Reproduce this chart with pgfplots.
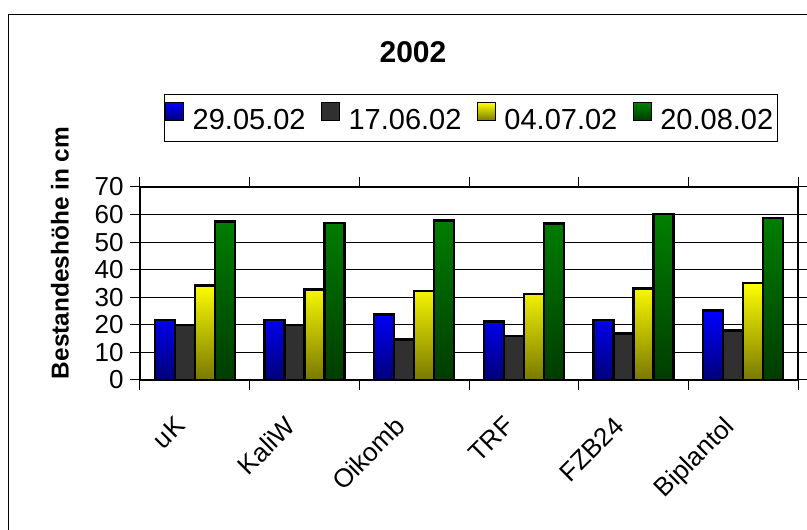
\documentclass[border=0pt]{standalone}
\usepackage{fontspec}
\setmainfont{Liberation Sans}
\usepackage{pgfplots}
\pgfplotsset{compat=1.18}
\definecolor{bluetop}{RGB}{0,0,255}
\definecolor{bluebot}{RGB}{0,0,120}
\definecolor{darkbar}{RGB}{48,48,48}
\definecolor{yeltop}{RGB}{255,255,0}
\definecolor{yelbot}{RGB}{120,120,0}
\definecolor{grntop}{RGB}{0,128,0}
\definecolor{grnbot}{RGB}{0,60,0}
\begin{document}
\begin{tikzpicture}
\useasboundingbox (0,0) rectangle (807pt,530pt);
\draw[line width=1.2pt] (8.5pt,0pt) -- (8.5pt,515.5pt) -- (807pt,515.5pt);
\node[font=\bfseries\fontsize{30}{34}\selectfont] at (413pt,478pt) {2002};
\begin{axis}[
  at={(140pt,150pt)}, anchor=south west,
  scale only axis, width=658pt, height=193pt,
  xmin=-0.5, xmax=5.5, ymin=0, ymax=70,
  ybar=0pt, bar width=20pt,
  xtick={-0.5,0.5,...,5.5}, xticklabels={,,,,,,,},
  extra x ticks={0,1,2,3,4,5},
  extra x tick labels={uK,KaliW,Oikomb,TRF,FZB24,Biplantol},
  extra x tick style={major tick length=0pt},
  xticklabel style={font=\fontsize{26}{30}\selectfont, xshift=-21pt, yshift=-30pt, rotate=45, anchor=north east},
  ytick={0,10,...,70},
  yticklabel style={font=\fontsize{26}{30}\selectfont, xshift=-3pt},
  /pgf/number format/assume math mode=true,
  tick align=outside, major tick length=10pt,
  tick style={black, line width=1pt},
  ymajorgrids, major grid style={black, line width=1pt},
  axis line style={line width=2pt},
  ylabel={Bestandeshöhe in cm},
  every axis y label/.style={at={(axis description cs:-0.1216,0.658)}, rotate=90, anchor=center, font=\bfseries\fontsize{24.4}{28}\selectfont},
  legend columns=4,
  legend style={at={(axis description cs:0.503,1.3575)}, anchor=center, draw=black, line width=1pt,
    font=\fontsize{29}{33}\selectfont, inner xsep=1pt, inner ysep=8pt, nodes={inner xsep=3pt, inner ysep=2pt},
    /tikz/every odd column/.append style={column sep=6pt},
    /tikz/every even column/.append style={column sep=13pt}},
  legend image code/.code={\pgfpathrectangle{\pgfpoint{0pt}{12pt}}{\pgfpoint{18pt}{6pt}}\pgfusepath{}\draw[#1, overlay, line width=1.2pt] (0pt,0pt) rectangle (18pt,18pt);},
]
\addplot[draw=black, line width=2.5pt, top color=bluetop, bottom color=bluebot] coordinates {(0,21.7) (1,21.7) (2,23.8) (3,21.2) (4,21.7) (5,25.2)};
\addplot[draw=black, line width=2.5pt, fill=darkbar] coordinates {(0,19.9) (1,19.9) (2,14.7) (3,15.9) (4,16.9) (5,17.9)};
\addplot[draw=black, line width=2.5pt, top color=yeltop, bottom color=yelbot] coordinates {(0,34.2) (1,32.8) (2,32.2) (3,31.2) (4,33.1) (5,35.2)};
\addplot[draw=black, line width=2.5pt, top color=grntop, bottom color=grnbot] coordinates {(0,57.4) (1,56.9) (2,57.9) (3,56.7) (4,60.2) (5,58.8)};
\legend{29.05.02,17.06.02,04.07.02,20.08.02}
\end{axis}
\end{tikzpicture}
\end{document}
